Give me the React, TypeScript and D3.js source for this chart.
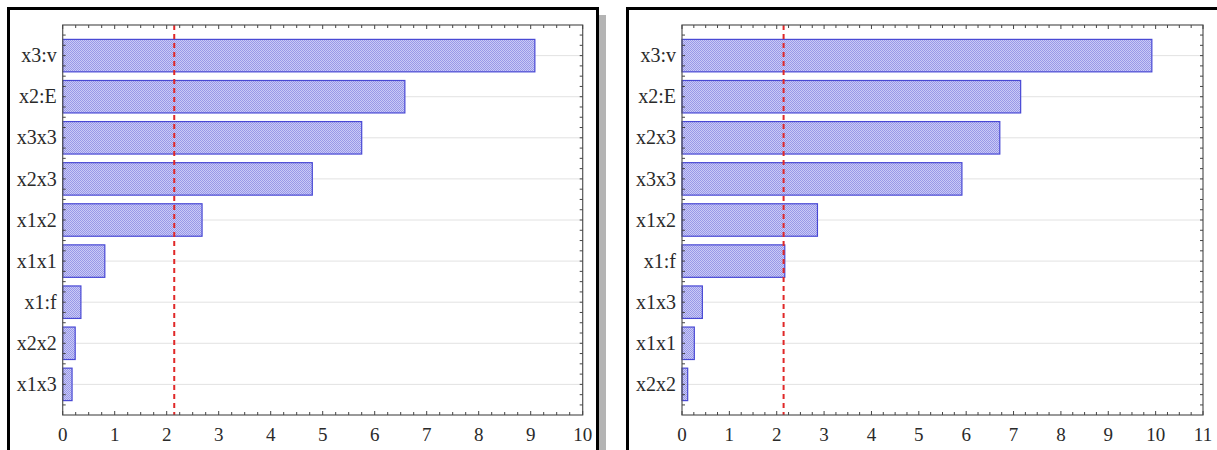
import React from "react";
import * as d3 from "d3";

const leftCategories = ["x3:v", "x2:E", "x3x3", "x2x3", "x1x2", "x1x1", "x1:f", "x2x2", "x1x3"];
const leftValues = [9.08, 6.58, 5.75, 4.8, 2.68, 0.81, 0.35, 0.24, 0.18];
const leftTicks = [0, 1, 2, 3, 4, 5, 6, 7, 8, 9, 10];

const rightCategories = ["x3:v", "x2:E", "x2x3", "x3x3", "x1x2", "x1:f", "x1x3", "x1x1", "x2x2"];
const rightValues = [9.92, 7.15, 6.71, 5.91, 2.86, 2.17, 0.43, 0.26, 0.12];
const rightTicks = [0, 1, 2, 3, 4, 5, 6, 7, 8, 9, 10, 11];

const criticalValue = 2.145;

const FONT = "'Liberation Serif', 'Times New Roman', serif";

type PanelProps = {
  id: string;
  categories: string[];
  values: number[];
  ticks: number[];
  x0: number;
  x1: number;
};

function Panel({ id, categories, values, ticks, x0, x1 }: PanelProps) {
  const top = 25;
  const bottom = 415;
  const maxT = ticks[ticks.length - 1];
  const x = d3.scaleLinear().domain([0, maxT]).range([x0, x1]);
  const y = d3.scalePoint<string>().domain(categories).range([top, bottom]).padding(0.745);
  const step = y.step();
  const barH = step * 0.79;

  const minorX = d3.range(0, maxT + 0.001, 0.25);
  const minorY: number[] = [];
  const c0 = y(categories[0]) as number;
  for (let k = -8; k < categories.length * 4 + 8; k++) {
    const v = c0 + (k * step) / 4;
    if (v > top + 1 && v < bottom - 1) minorY.push(v);
  }

  return (
    <g>
      {categories.map((c) => (
        <line key={"g" + c} x1={x0} x2={x1} y1={y(c)} y2={y(c)} stroke="#e2e2e2" strokeWidth={1} />
      ))}
      {categories.map((c, i) => (
        <rect
          key={"b" + c}
          x={x(0)}
          y={(y(c) as number) - barH / 2}
          width={x(values[i]) - x(0)}
          height={barH}
          fill={`url(#${id}-dots)`}
          stroke="#4848d4"
          strokeWidth={1.2}
        />
      ))}
      <line
        x1={x(criticalValue)}
        x2={x(criticalValue)}
        y1={top}
        y2={bottom}
        stroke="#e02828"
        strokeWidth={2}
        strokeDasharray="5,4"
      />
      <rect x={x0} y={top} width={x1 - x0} height={bottom - top} fill="none" stroke="#555" strokeWidth={1.2} />
      {minorX.map((t) => (
        <g key={"tx" + t}>
          <line x1={x(t)} x2={x(t)} y1={bottom} y2={bottom - (Number.isInteger(t) ? 4 : 3)} stroke="#444" />
          <line x1={x(t)} x2={x(t)} y1={top} y2={top + (Number.isInteger(t) ? 4 : 3)} stroke="#444" />
        </g>
      ))}
      {minorY.map((v, i) => (
        <g key={"ty" + i}>
          <line x1={x0} x2={x0 + 3} y1={v} y2={v} stroke="#444" />
          <line x1={x1} x2={x1 - 3} y1={v} y2={v} stroke="#444" />
        </g>
      ))}
      {ticks.map((t) => (
        <text
          key={"l" + t}
          x={x(t)}
          y={441}
          textAnchor="middle"
          fontFamily={FONT}
          fontSize={19}
          fill="#2a2a2a"
        >
          {t}
        </text>
      ))}
      {categories.map((c) => (
        <text
          key={"c" + c}
          x={x0 - 6}
          y={y(c)}
          dy="0.33em"
          textAnchor="end"
          fontFamily={FONT}
          fontSize={20}
          fill="#2a2a2a"
        >
          {c}
        </text>
      ))}
    </g>
  );
}

export default function App() {
  const patterns = ["left", "right"];
  return (
    <svg
      width={1217}
      height={450}
      style={{ position: "absolute", left: 0, top: 0, background: "#fff" }}
    >
      <defs>
        {patterns.map((p) => (
          <pattern key={p} id={`${p}-dots`} width={2} height={2} patternUnits="userSpaceOnUse">
            <rect width={2} height={2} fill="#cacaf6" />
            <rect x={0} y={0} width={1} height={1} fill="#9898e8" />
            <rect x={1} y={1} width={1} height={1} fill="#9898e8" />
          </pattern>
        ))}
      </defs>
      <rect x={0} y={0} width={1217} height={450} fill="#fff" />
      <rect x={599} y={15} width={7} height={440} fill="#b4b4b4" />
      <rect x={8.5} y={8.5} width={589} height={460} fill="#fff" stroke="#000" strokeWidth={3} />
      <rect x={627.5} y={8.5} width={700} height={460} fill="#fff" stroke="#000" strokeWidth={3} />
      <Panel
        id="left"
        categories={leftCategories}
        values={leftValues}
        ticks={leftTicks}
        x0={62.7}
        x1={582.7}
      />
      <Panel
        id="right"
        categories={rightCategories}
        values={rightValues}
        ticks={rightTicks}
        x0={682}
        x1={1203}
      />
    </svg>
  );
}
